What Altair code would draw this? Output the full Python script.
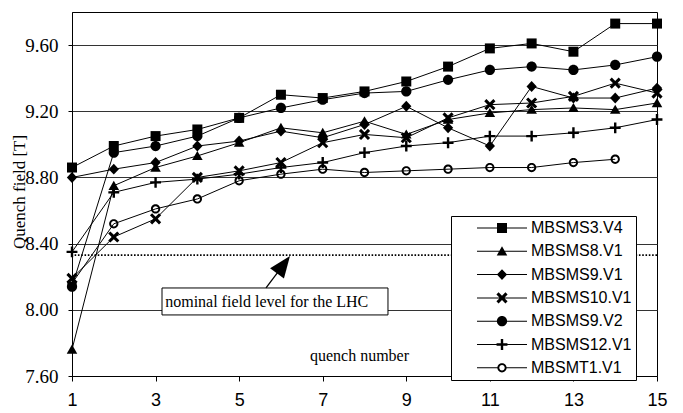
import math
import altair as alt
import pandas as pd

# ---------------- data ----------------
QUENCH = list(range(1, 16))
SERIES = ["MBSMS3.V4", "MBSMS8.V1", "MBSMS9.V1", "MBSMS10.V1",
          "MBSMS9.V2", "MBSMS12.V1", "MBSMT1.V1"]

MBSMS3_V4 = [8.86, 8.99, 9.05, 9.09, 9.16, 9.30, 9.28, 9.32, 9.38, 9.47, 9.58, 9.61, 9.56, 9.73, 9.73]
MBSMS8_V1 = [7.76, 8.75, 8.86, 8.93, 9.01, 9.10, 9.07, 9.14, 9.06, 9.15, 9.19, 9.21, 9.22, 9.21, 9.25]
MBSMS9_V1 = [8.80, 8.85, 8.89, 8.99, 9.02, 9.08, 9.04, 9.12, 9.23, 9.10, 8.99, 9.35, 9.28, 9.28, 9.34]
MBSMS10_V1 = [8.19, 8.44, 8.55, 8.80, 8.84, 8.89, 9.01, 9.06, 9.04, 9.16, 9.24, 9.25, 9.29, 9.37, 9.31]
MBSMS9_V2 = [8.14, 8.95, 8.99, 9.05, 9.16, 9.22, 9.27, 9.31, 9.32, 9.39, 9.45, 9.47, 9.45, 9.48, 9.53]
MBSMS12_V1 = [8.35, 8.71, 8.77, 8.79, 8.82, 8.86, 8.89, 8.95, 8.99, 9.01, 9.05, 9.05, 9.07, 9.10, 9.15]
MBSMT1_V1 = [8.16, 8.52, 8.61, 8.67, 8.78, 8.82, 8.85, 8.83, 8.84, 8.85, 8.86, 8.86, 8.89, 8.91, None]

VALUES = [MBSMS3_V4, MBSMS8_V1, MBSMS9_V1, MBSMS10_V1, MBSMS9_V2, MBSMS12_V1, MBSMT1_V1]

X_TICKS = [1, 3, 5, 7, 9, 11, 13, 15]
Y_TICKS = [7.60, 8.00, 8.40, 8.80, 9.20, 9.60]
X_DOMAIN = [1, 15]
Y_DOMAIN = [7.60, 9.80]

NOMINAL_FIELD = 8.33
ANNOT_TEXT = "nominal field level for the LHC"
ANNOT_BOX_X = [3.154, 8.562]
ANNOT_BOX_Y = [7.969, 8.132]
ANNOT_TEXT_XY = [3.23, 8.017]
ARROW_TAIL = [5.643, 8.132]
ARROW_HEAD = [6.018, 8.258]
X_TITLE = "quench number"
Y_TITLE = "Quench field [T]"

rows = []
for name, vals in zip(SERIES, VALUES):
    for q, v in zip(QUENCH, vals):
        if v is not None:
            rows.append({"series": name, "q": q, "value": v})
df = pd.DataFrame(rows)

# ---------------- marker shapes (unit paths, scaled by sqrt(size)/2) ----------------
def poly(pts):
    return "M" + "L".join(f"{x:.3f},{y:.3f}" for x, y in pts) + "Z"

def rect(x1, y1, x2, y2):
    return f"M{x1},{y1}H{x2}V{y2}H{x1}Z"

def cross(a, t, rot=False):
    pts = [(-t, -a), (t, -a), (t, -t), (a, -t), (a, t), (t, t), (t, a), (-t, a),
           (-t, t), (-a, t), (-a, -t), (-t, -t)]
    if rot:
        c = math.sqrt(0.5)
        pts = [((x - y) * c, (x + y) * c) for x, y in pts]
    return poly(pts)

def circ(r, sweep=1):
    return f"M{r},0A{r},{r},0,1,{sweep},{-r},0A{r},{r},0,1,{sweep},{r},0Z"

SQUARE = rect(-0.625, -0.625, 0.625, 0.625)
TRIANGLE = poly([(0, -0.62), (0.66, 0.52), (-0.66, 0.52)])
DIAMOND = poly([(0, -0.68), (0.64, 0), (0, 0.68), (-0.64, 0)])
XMARK = cross(0.8, 0.19, rot=True)
DOT = circ(0.64)
PLUS = cross(0.68, 0.15)
RING = circ(0.58, 1) + circ(0.34, 0)

MARKERS = [SQUARE, TRIANGLE, DIAMOND, XMARK, DOT, PLUS, RING]
LINE_FULL = rect(-3.125, -0.0625, 3.125, 0.0625)
LINE_SPLIT = rect(-3.125, -0.0625, -0.45, 0.0625) + rect(0.45, -0.0625, 3.125, 0.0625)
LEGEND_SYMBOLS = [m + LINE_FULL for m in MARKERS[:-1]] + [RING + LINE_SPLIT]
ARROW_PATH = "M0,-1.6L1.0,0.9L-1.0,0.9Z"

SANS = "Liberation Sans"
SERIF = "Liberation Serif"

x_enc = alt.X("q:Q", scale=alt.Scale(domain=X_DOMAIN, nice=False, zero=False),
              axis=alt.Axis(values=X_TICKS, format="d", labelFont=SANS, labelFontSize=18,
                            labelColor="black", labelFlush=False, tickSize=5, tickColor="black",
                            domainColor="black", labelPadding=10, grid=False,
                            title=X_TITLE, titleFont=SERIF, titleFontSize=16,
                            titleFontWeight="normal", titleColor="black",
                            titleX=287, titleY=-16, titleAlign="center",
                            titleBaseline="alphabetic"))
y_enc = alt.Y("value:Q", scale=alt.Scale(domain=Y_DOMAIN, nice=False, zero=False),
              axis=alt.Axis(values=Y_TICKS, format=".2f", labelFont=SERIF, labelFontSize=19,
                            labelColor="black", tickSize=4, tickColor="black",
                            domainColor="black", labelPadding=10, grid=True,
                            gridColor="#333333", gridWidth=1,
                            title=Y_TITLE, titleFont=SERIF, titleFontSize=17,
                            titleFontWeight="normal", titleColor="black",
                            titleAngle=270, titleX=-53, titleY=179.5,
                            titleAlign="center", titleBaseline="middle"))

base = alt.Chart(df)

lines = base.mark_line(color="black", strokeWidth=1).encode(
    x=x_enc, y=y_enc, detail="series:N", order="q:Q")

points = base.mark_point(filled=True, size=256, opacity=1, color="black", strokeWidth=0).encode(
    x="q:Q", y="value:Q",
    shape=alt.Shape("series:N", scale=alt.Scale(domain=SERIES, range=MARKERS), legend=None))

legend_layer = base.transform_filter("datum.q < 0").mark_point(
    filled=True, size=256, opacity=1, color="black", strokeWidth=0).encode(
    x="q:Q", y="value:Q",
    shape=alt.Shape("series:N", scale=alt.Scale(domain=SERIES, range=LEGEND_SYMBOLS),
                    legend=alt.Legend(title=None, orient="none", legendX=379, legendY=204,
                                      direction="vertical", padding=4, rowPadding=7.3,
                                      symbolSize=256, symbolOffset=39, labelOffset=21,
                                      symbolStrokeWidth=0, symbolFillColor="black",
                                      labelFont=SANS, labelFontSize=16, labelColor="black",
                                      labelExpr="datum.label + '          '",
                                      strokeColor="black", fillColor="white")))

nominal = alt.Chart(pd.DataFrame({"y": [NOMINAL_FIELD]})).mark_rule(
    color="black", strokeWidth=1.8, strokeDash=[1.6, 1.7]).encode(y="y:Q")

annot_df = pd.DataFrame({"x1": [ANNOT_BOX_X[0]], "x2": [ANNOT_BOX_X[1]],
                         "y1": [ANNOT_BOX_Y[0]], "y2": [ANNOT_BOX_Y[1]],
                         "tx": [ANNOT_TEXT_XY[0]], "ty": [ANNOT_TEXT_XY[1]],
                         "label": [ANNOT_TEXT],
                         "ax": [ARROW_TAIL[0]], "ay": [ARROW_TAIL[1]],
                         "hx": [ARROW_HEAD[0]], "hy": [ARROW_HEAD[1]]})
annot = alt.Chart(annot_df)
box = annot.mark_rect(fill="white", stroke="black", strokeWidth=1).encode(
    x="x1:Q", x2="x2", y="y1:Q", y2="y2")
text = annot.mark_text(font=SERIF, fontSize=16, align="left", baseline="alphabetic",
                       color="black").encode(x="tx:Q", y="ty:Q", text="label:N")
arrow = annot.mark_rule(color="black", strokeWidth=1.3).encode(
    x="ax:Q", y="ay:Q", x2="hx", y2="hy")
arrow_head = annot.mark_point(shape=ARROW_PATH, size=300, filled=True, opacity=1,
                              color="black", strokeWidth=0, angle=36.87).encode(
    x="hx:Q", y="hy:Q")

chart = alt.layer(nominal, lines, points, legend_layer, box, text, arrow, arrow_head).resolve_scale(
    shape="independent").resolve_legend(shape="independent").properties(
    width=585, height=364,
    autosize=alt.AutoSizeParams(type="none"),
    padding={"left": 72, "top": 12, "right": 26, "bottom": 37},
    background="white",
).configure_view(stroke="black", strokeWidth=1)

chart.save("out.html", embed_options={"renderer": "svg", "actions": False})
